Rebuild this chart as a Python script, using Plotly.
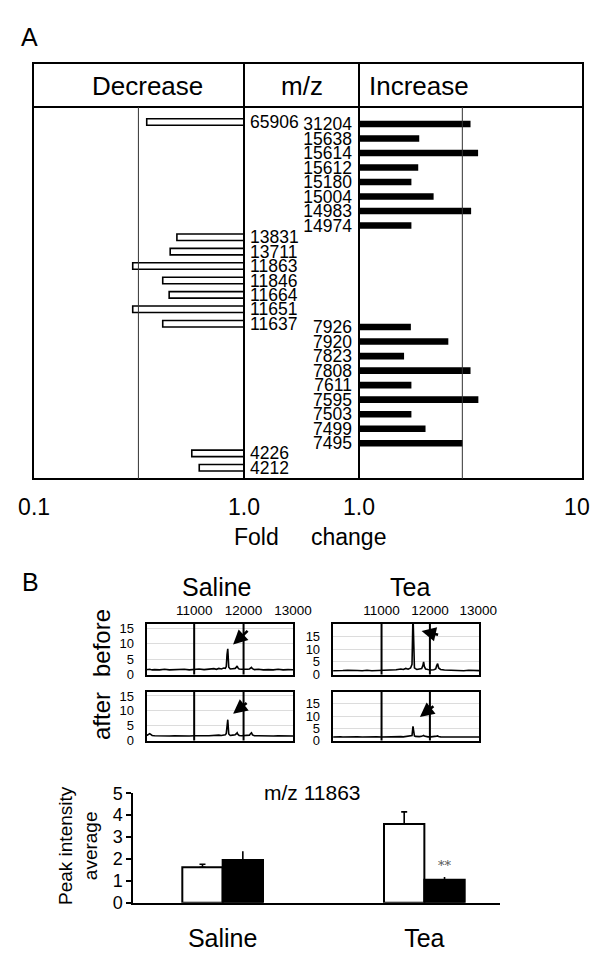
import plotly.graph_objects as go

# page body has an 8px margin; keep the figure inside the 600x966 window without scrollbars
PAGE_OFF = 8
W, H = 600 - 2 * PAGE_OFF, 966 - 2 * PAGE_OFF
FONT = "Liberation Sans, Arial, sans-serif"

# ---------------- Panel A data ----------------
dec_mz = ["65906", "13831", "13711", "11863", "11846", "11664", "11651", "11637", "4226", "4212"]
dec_fold = [0.344, 0.479, 0.445, 0.295, 0.41, 0.44, 0.295, 0.41, 0.564, 0.612]
inc_mz = ["31204", "15638", "15614", "15612", "15180", "15004", "14983", "14974",
          "7926", "7920", "7823", "7808", "7611", "7595", "7503", "7499", "7495"]
inc_fold = [3.25, 1.89, 3.52, 1.87, 1.74, 2.20, 3.27, 1.74,
            1.73, 2.57, 1.61, 3.25, 1.74, 3.53, 1.74, 2.02, 2.99]
dec_threshold = 0.314
inc_threshold = 2.98
dec_tickvals = [0.1, 1.0]
dec_ticktext = ["0.1", "1.0"]
inc_tickvals = [1.0, 10.0]
inc_ticktext = ["1.0", "10"]
headers = ["Decrease", "m/z", "Increase"]

# blank rows inserted after some categories (layout spacing)
dec_gaps = {"65906": 7, "11637": 8}
inc_gaps = {"14974": 6}

# ---------------- Panel B data ----------------
mz = [10000, 10050, 10100, 10150, 10200, 10300, 10400, 10500, 10600, 10700,
      10800, 10900, 11000, 11100, 11200, 11300, 11400, 11450, 11500, 11550,
      11600, 11630, 11650, 11665, 11680, 11700, 11730, 11780, 11830, 11855,
      11870, 11885, 11910, 11960, 12020, 12080, 12120, 12140, 12160, 12180,
      12220, 12300, 12400, 12500, 12600, 12700, 12800, 12900, 13000, 13040]
saline_before = [1.5, 1.6, 1.7, 1.5, 1.6, 1.5, 1.7, 1.5, 1.6, 1.5,
                 1.7, 1.5, 1.6, 1.8, 1.6, 1.7, 1.9, 1.7, 2.0, 1.8,
                 2.1, 2.0, 2.6, 6.5, 8.4, 2.4, 1.8, 1.9, 2.0, 2.4,
                 2.8, 2.2, 1.8, 1.7, 1.6, 1.7, 1.8, 2.1, 2.3, 1.9,
                 1.6, 1.7, 1.5, 1.6, 1.5, 1.7, 1.5, 1.6, 1.5, 1.5]
saline_after = [1.6, 1.8, 2.3, 1.7, 1.6, 1.5, 1.6, 1.5, 1.6, 1.5,
                1.6, 1.5, 1.6, 1.7, 1.6, 1.6, 1.8, 1.7, 1.8, 1.7,
                1.9, 1.9, 2.4, 5.8, 7.0, 2.2, 1.7, 1.8, 1.9, 2.3,
                2.6, 2.1, 1.7, 1.6, 1.6, 1.6, 1.8, 2.3, 2.6, 1.9,
                1.6, 1.6, 1.5, 1.6, 1.5, 1.6, 1.5, 1.6, 1.5, 1.5]
tea_before = [1.5, 1.6, 1.7, 1.5, 1.6, 1.7, 1.5, 1.6, 1.5, 1.7,
              1.5, 1.6, 1.6, 1.8, 1.7, 1.9, 2.2, 2.0, 2.4, 2.1,
              2.6, 4.0, 24.0, 6.0, 2.6, 2.3, 2.0, 2.2, 2.4, 3.6,
              5.0, 3.2, 2.2, 2.0, 1.8, 1.9, 2.2, 3.5, 4.3, 2.6,
              2.0, 1.8, 1.7, 1.6, 1.8, 1.5, 1.7, 1.6, 1.5, 1.5]
tea_after = [1.4, 1.5, 1.4, 1.5, 1.4, 1.5, 1.4, 1.5, 1.4, 1.5,
             1.4, 1.5, 1.4, 1.5, 1.5, 1.6, 1.6, 1.5, 1.7, 1.6,
             1.8, 2.0, 5.8, 2.8, 1.9, 1.7, 1.6, 1.6, 1.7, 1.9,
             2.1, 1.8, 1.6, 1.5, 1.5, 1.5, 1.6, 1.8, 1.9, 1.6,
             1.5, 1.5, 1.4, 1.5, 1.4, 1.5, 1.4, 1.5, 1.4, 1.4]
mz_ticks = [11000, 12000, 13000]
mz_ticktext = ["11000", "12000", "13000"]
mz_marker_lines = [11000, 12000]
int_ticks = [0, 5, 10, 15]
# arrow targets (m/z, intensity) per spectrum
arrow_targets = {
    "saline_before": (11788, 9.8),
    "saline_after": (11788, 9.0),
    "tea_before": (11828, 17.2),
    "tea_after": (11793, 9.6),
}

groups = ["Saline", "Tea"]
before_mean = [1.62, 3.60]
before_err = [0.14, 0.55]
after_mean = [1.95, 1.05]
after_err = [0.40, 0.12]
bar_title = "m/z 11863"
signif = "**"


def X(px):
    return (px - PAGE_OFF) / W


def Y(py):
    return 1 - (py - PAGE_OFF) / H


def with_gaps(cats, gaps, prefix):
    order = []
    for c in cats:
        order.append(c)
        for k in range(gaps.get(c, 0)):
            order.append(f"{prefix}{c}_{k}")
    return order


fig = go.Figure()

# ---------- Panel A ----------
fig.add_trace(go.Bar(
    y=dec_mz, x=[1 - v for v in dec_fold], base=dec_fold, orientation="h",
    width=0.45, marker=dict(color="white", line=dict(color="black", width=1.6)),
    xaxis="x", yaxis="y", showlegend=False, hoverinfo="skip"))
fig.add_trace(go.Bar(
    y=inc_mz, x=[v - 1 for v in inc_fold], base=[1.0] * len(inc_fold), orientation="h",
    width=0.45, marker=dict(color="black", line=dict(color="black", width=0)),
    xaxis="x2", yaxis="y2", showlegend=False, hoverinfo="skip"))

# ---------- Panel B spectra ----------
spectra = [
    ("saline_before", saline_before, "x3", "y3"),
    ("saline_after", saline_after, "x4", "y4"),
    ("tea_before", tea_before, "x5", "y5"),
    ("tea_after", tea_after, "x6", "y6"),
]
for name, vals, xa, ya in spectra:
    fig.add_trace(go.Scatter(x=mz, y=vals, mode="lines",
                             line=dict(color="black", width=1.6),
                             xaxis=xa, yaxis=ya, showlegend=False, hoverinfo="skip"))

# ---------- Panel B bar chart ----------
fig.add_trace(go.Bar(
    x=groups, y=before_mean, width=0.2, offset=-0.2,
    marker=dict(color="white", line=dict(color="black", width=2)),
    error_y=dict(type="data", array=before_err, arrayminus=[0] * len(before_err),
                 symmetric=False, color="black", thickness=1.6, width=3),
    xaxis="x7", yaxis="y7", showlegend=False, hoverinfo="skip"))
fig.add_trace(go.Bar(
    x=groups, y=after_mean, width=0.2, offset=0.0,
    marker=dict(color="black", line=dict(color="black", width=2)),
    error_y=dict(type="data", array=after_err, arrayminus=[0] * len(after_err),
                 symmetric=False, color="black", thickness=1.6, width=0),
    xaxis="x7", yaxis="y7", showlegend=False, hoverinfo="skip"))

layout = dict(
    width=W, height=H, autosize=False, margin=dict(l=0, r=0, t=0, b=0, pad=0, autoexpand=False),
    paper_bgcolor="white", plot_bgcolor="rgba(0,0,0,0)",
    barmode="overlay", font=dict(family=FONT, color="black"),
)

# Panel A axes
ytop, ybot = 107, 479
layout["xaxis"] = dict(type="log", domain=[X(34), X(244)], range=[-1.0005, 0], anchor="y",
                       tickmode="array", tickvals=dec_tickvals, ticktext=dec_ticktext,
                       tickfont=dict(size=23), ticks="", showgrid=False, zeroline=False,
                       showline=False, ticklabelstandoff=12, automargin=False)
layout["yaxis"] = dict(type="category", categoryorder="array",
                       categoryarray=with_gaps(dec_mz, dec_gaps, "gap_d"),
                       range=[24.78, -1.04], domain=[Y(ybot), Y(ytop)], anchor="x",
                       side="right", tickmode="array", tickvals=dec_mz, ticktext=dec_mz,
                       tickfont=dict(size=17.5), ticks="", showgrid=False, showline=False,
                       zeroline=False, ticklabelstandoff=5, automargin=False)
layout["xaxis2"] = dict(type="log", domain=[X(359), X(577)], range=[0, 1.0005], anchor="y2",
                        tickmode="array", tickvals=inc_tickvals, ticktext=inc_ticktext,
                        tickfont=dict(size=23), ticks="", showgrid=False, zeroline=False,
                        showline=False, ticklabelstandoff=12, automargin=False)
layout["yaxis2"] = dict(type="category", categoryorder="array",
                        categoryarray=with_gaps(inc_mz, inc_gaps, "gap_i"),
                        range=[24.47, -1.17], domain=[Y(ybot), Y(ytop)], anchor="x2",
                        side="left", tickmode="array", tickvals=inc_mz, ticktext=inc_mz,
                        tickfont=dict(size=17.5), ticks="", showgrid=False, showline=False,
                        zeroline=False, ticklabelstandoff=6, automargin=False)

# Spectra axes
spec_x = {"saline": (146.5, 293), "tea": (332.7, 479)}
spec_xrange = {"saline": [10035, 13000.5], "tea": [9990, 13015]}
spec_yrange = {"saline": [0, 16.5], "tea": [0, 20]}
spec_y = {"before": (624, 674.5), "after": (691.5, 740.5)}
ax_map = {"saline_before": (3, "saline", "before"), "saline_after": (4, "saline", "after"),
          "tea_before": (5, "tea", "before"), "tea_after": (6, "tea", "after")}
for name, (i, grp, when) in ax_map.items():
    x0, x1 = spec_x[grp]
    y0, y1 = spec_y[when]
    layout[f"xaxis{i}"] = dict(domain=[X(x0), X(x1)], range=spec_xrange[grp], anchor=f"y{i}",
                               side="top", tickmode="array", tickvals=mz_ticks, ticktext=mz_ticktext,
                               showticklabels=(when == "before"), tickfont=dict(size=13.5),
                               ticks="", showgrid=False,
                               showline=True, linecolor="black", linewidth=2, mirror=True,
                               zeroline=False, ticklabelstandoff=2, automargin=False)
    layout[f"yaxis{i}"] = dict(domain=[Y(y1), Y(y0)], range=spec_yrange[grp], anchor=f"x{i}",
                               tickmode="array", tickvals=int_ticks, tickfont=dict(size=13),
                               ticks="", showgrid=True, gridcolor="#dcdcdc", gridwidth=1,
                               showline=True, linecolor="black", linewidth=2, mirror=True,
                               zeroline=False, ticklabelstandoff=8, automargin=False)

# Bar chart axes
layout["xaxis7"] = dict(type="category", domain=[X(133.3), X(500)], range=[-0.443, 1.375],
                        anchor="y7", tickfont=dict(size=25), ticks="", showgrid=False,
                        showline=True, linecolor="black", linewidth=2, zeroline=False,
                        ticklabelstandoff=12, automargin=False)
layout["yaxis7"] = dict(domain=[Y(902.7), Y(793.3)], range=[0, 5], anchor="x7",
                        tickmode="array", tickvals=[0, 1, 2, 3, 4, 5], tickfont=dict(size=18),
                        ticks="outside", ticklen=5, tickwidth=1.5, tickcolor="black",
                        showgrid=False, showline=True, linecolor="black", linewidth=2,
                        zeroline=False, automargin=False)

fig.update_layout(**layout)

# ---------- shapes ----------
shapes = []
L = dict(color="black", width=2)
shapes.append(dict(type="rect", xref="paper", yref="paper", x0=X(33), x1=X(583), y0=Y(479), y1=Y(63), line=L))
shapes.append(dict(type="line", xref="paper", yref="paper", x0=X(33), x1=X(583), y0=Y(107), y1=Y(107), line=L))
for xv in (244, 359):
    shapes.append(dict(type="line", xref="paper", yref="paper", x0=X(xv), x1=X(xv), y0=Y(479), y1=Y(63), line=L))
shapes.append(dict(type="line", xref="x", yref="y domain", x0=dec_threshold, x1=dec_threshold,
                   y0=0, y1=1, line=dict(color="#333", width=1)))
shapes.append(dict(type="line", xref="x2", yref="y2 domain", x0=inc_threshold, x1=inc_threshold,
                   y0=0, y1=1, line=dict(color="#333", width=1)))
for i in (3, 4, 5, 6):
    for m in mz_marker_lines:
        shapes.append(dict(type="line", xref=f"x{i}", yref=f"y{i} domain", x0=m, x1=m,
                           y0=0, y1=1, line=dict(color="black", width=2)))
fig.update_layout(shapes=shapes)

# ---------- annotations ----------
ann = []


def txt(text, px, py, size, angle=0, color="black"):
    ann.append(dict(text=text, x=X(px), y=Y(py), xref="paper", yref="paper", showarrow=False,
                    xanchor="center", yanchor="middle", textangle=angle,
                    font=dict(size=size, color=color, family=FONT)))


txt("A", 29, 37.5, 25)
txt(headers[0], 147, 86, 26)
txt(headers[1], 302, 86, 26)
txt(headers[2], 419, 86, 26)
txt("Fold", 256, 537, 23)
txt("change", 349, 537, 23)
txt("B", 30, 582, 25)
txt("Saline", 217, 587, 25)
txt("Tea", 410, 587, 25)
txt("before", 101, 643, 24, angle=-90)
txt("after", 101, 716, 24, angle=-90)
txt(bar_title, 312, 792, 21)
txt("Peak intensity<br>average", 78, 846, 19, angle=-90)

arrow_offsets = {"saline_before": (16, -15), "saline_after": (15, -12),
                 "tea_before": (18, 4), "tea_after": (15, -12)}
for name, (i, grp, when) in ax_map.items():
    tx, ty = arrow_targets[name]
    dx, dy = arrow_offsets[name]
    ann.append(dict(x=tx, y=ty, xref=f"x{i}", yref=f"y{i}", text="", showarrow=True,
                    ax=dx, ay=dy, arrowhead=2, arrowsize=1.1, arrowwidth=2.6,
                    arrowcolor="black", standoff=0, startstandoff=0))

ann.append(dict(x=1.1, y=after_mean[1] + after_err[1] + 0.55, xref="x7", yref="y7", text=signif,
                showarrow=False, font=dict(size=13, color="#555", family="DejaVu Serif, serif")))
fig.update_layout(annotations=ann)

fig.write_html("out.html")
